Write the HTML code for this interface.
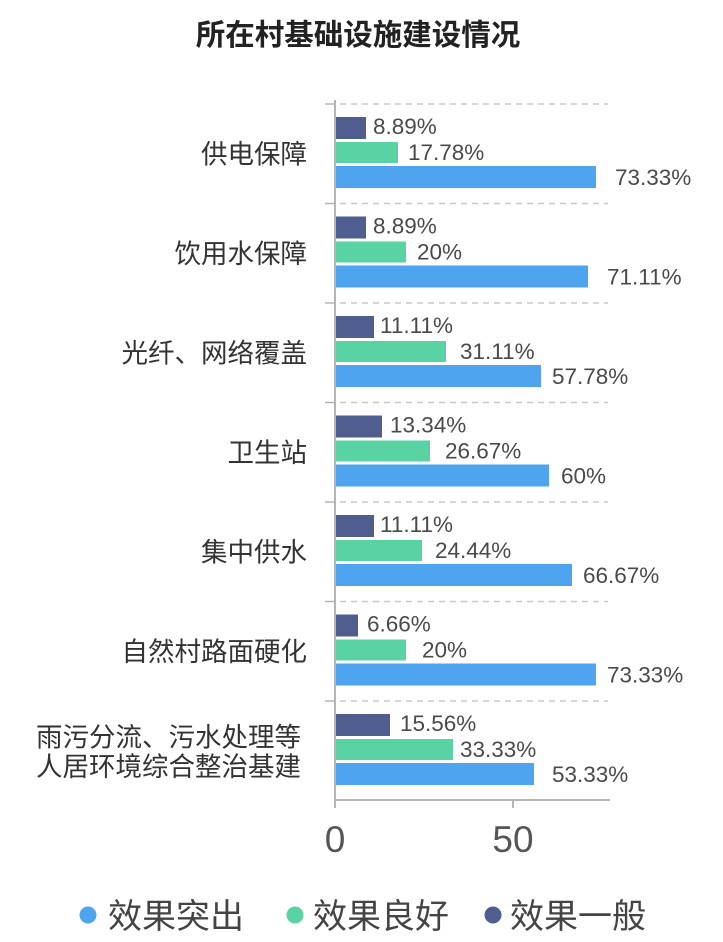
<!DOCTYPE html>
<html><head><meta charset="utf-8"><style>
html,body{margin:0;padding:0;background:#fff;}
svg{display:block;}
.cat{font-family:"Liberation Sans","Noto Sans CJK SC",sans-serif;font-size:26.5px;fill:#333;}
.val{font-family:"Liberation Sans",sans-serif;font-size:22.5px;fill:#4a4a4a;}
</style></head><body>
<svg width="723" height="942" viewBox="0 0 723 942" xmlns="http://www.w3.org/2000/svg">
<rect width="723" height="942" fill="#fff"/>
<text x="358" y="45" text-anchor="middle" font-family="'Liberation Sans','Noto Sans CJK SC',sans-serif" font-size="29.5" font-weight="bold" fill="#222">所在村基础设施建设情况</text>

<!-- gridlines -->
<g stroke="#c8c8c8" stroke-width="1.5">
<line x1="340" y1="104" x2="608" y2="104" stroke-dasharray="6 5"/>
<line x1="340" y1="203.5" x2="608" y2="203.5" stroke-dasharray="6 5"/>
<line x1="340" y1="303" x2="608" y2="303" stroke-dasharray="6 5"/>
<line x1="340" y1="402.5" x2="608" y2="402.5" stroke-dasharray="6 5"/>
<line x1="340" y1="502" x2="608" y2="502" stroke-dasharray="6 5"/>
<line x1="340" y1="601.5" x2="608" y2="601.5" stroke-dasharray="6 5"/>
<line x1="340" y1="701" x2="608" y2="701" stroke-dasharray="6 5"/>
</g>
<g stroke="#b5b5b5" stroke-width="1.5">
<line x1="325" y1="104" x2="335" y2="104"/>
<line x1="325" y1="203.5" x2="335" y2="203.5"/>
<line x1="325" y1="303" x2="335" y2="303"/>
<line x1="325" y1="402.5" x2="335" y2="402.5"/>
<line x1="325" y1="502" x2="335" y2="502"/>
<line x1="325" y1="601.5" x2="335" y2="601.5"/>
<line x1="325" y1="701" x2="335" y2="701"/>
</g>

<!-- bars -->
<g>
<rect x="335" y="117" width="31" height="22" fill="#4f5d8f"/>
<rect x="335" y="142" width="63" height="21" fill="#5ad3a4"/>
<rect x="335" y="166" width="261" height="22" fill="#4fa4f0"/>

<rect x="335" y="216.5" width="31" height="22" fill="#4f5d8f"/>
<rect x="335" y="241.5" width="71" height="21" fill="#5ad3a4"/>
<rect x="335" y="265.5" width="253" height="22" fill="#4fa4f0"/>

<rect x="335" y="316" width="39" height="22" fill="#4f5d8f"/>
<rect x="335" y="341" width="111" height="21" fill="#5ad3a4"/>
<rect x="335" y="365" width="206" height="22" fill="#4fa4f0"/>

<rect x="335" y="415.5" width="47" height="22" fill="#4f5d8f"/>
<rect x="335" y="440.5" width="95" height="21" fill="#5ad3a4"/>
<rect x="335" y="464.5" width="214" height="22" fill="#4fa4f0"/>

<rect x="335" y="515" width="39" height="22" fill="#4f5d8f"/>
<rect x="335" y="540" width="87" height="21" fill="#5ad3a4"/>
<rect x="335" y="564" width="237" height="22" fill="#4fa4f0"/>

<rect x="335" y="614.5" width="23" height="22" fill="#4f5d8f"/>
<rect x="335" y="639.5" width="71" height="21" fill="#5ad3a4"/>
<rect x="335" y="663.5" width="261" height="22" fill="#4fa4f0"/>

<rect x="335" y="714" width="55" height="22" fill="#4f5d8f"/>
<rect x="335" y="739" width="118" height="21" fill="#5ad3a4"/>
<rect x="335" y="763" width="199" height="22" fill="#4fa4f0"/>
</g>

<!-- axes -->
<line x1="335" y1="100" x2="335" y2="808" stroke="#b5b5b5" stroke-width="2"/>
<line x1="335" y1="800" x2="610" y2="800" stroke="#b5b5b5" stroke-width="2"/>
<line x1="513" y1="800" x2="513" y2="808" stroke="#b5b5b5" stroke-width="2"/>

<!-- value labels -->
<g class="val">
<text x="373" y="134">8.89%</text>
<text x="408" y="160">17.78%</text>
<text x="615" y="185">73.33%</text>

<text x="373" y="233.5">8.89%</text>
<text x="417" y="259.5">20%</text>
<text x="607" y="284.5">71.11%</text>

<text x="380" y="333">11.11%</text>
<text x="460" y="359">31.11%</text>
<text x="552" y="384">57.78%</text>

<text x="390" y="432.5">13.34%</text>
<text x="445" y="458.5">26.67%</text>
<text x="561" y="483.5">60%</text>

<text x="380" y="532">11.11%</text>
<text x="435" y="558">24.44%</text>
<text x="583" y="583">66.67%</text>

<text x="367" y="631.5">6.66%</text>
<text x="422" y="657.5">20%</text>
<text x="607" y="682.5">73.33%</text>

<text x="400" y="731">15.56%</text>
<text x="460" y="757">33.33%</text>
<text x="552" y="782">53.33%</text>
</g>

<!-- category labels -->
<g class="cat" text-anchor="end">
<text x="307" y="163.5">供电保障</text>
<text x="307" y="263">饮用水保障</text>
<text x="307" y="362.5">光纤、网络覆盖</text>
<text x="307" y="462">卫生站</text>
<text x="307" y="561.5">集中供水</text>
<text x="307" y="661">自然村路面硬化</text>
<text x="301" y="746.5">雨污分流、污水处理等</text>
<text x="301" y="776">人居环境综合整治基建</text>
</g>

<!-- tick labels -->
<g font-family="'Liberation Sans',sans-serif" font-size="37" fill="#555" text-anchor="middle">
<text x="335" y="852">0</text>
<text x="513" y="852">50</text>
</g>

<!-- legend -->
<circle cx="88" cy="915" r="8.5" fill="#4fa4f0"/>
<circle cx="295" cy="915" r="8.5" fill="#5ad3a4"/>
<circle cx="493" cy="915" r="8.5" fill="#4f5d8f"/>
<g font-family="'Liberation Sans','Noto Sans CJK SC',sans-serif" font-size="34" fill="#444">
<text x="108" y="928">效果突出</text>
<text x="313" y="928">效果良好</text>
<text x="510" y="928">效果一般</text>
</g>
</svg>
</body></html>
